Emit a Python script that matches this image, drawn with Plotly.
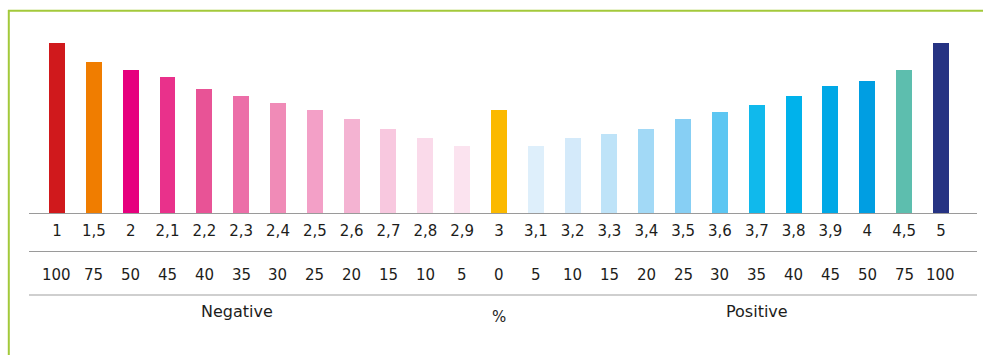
import plotly.graph_objects as go

# Rating scale, percentage band and bar heights
scale_labels = ["1", "1,5", "2", "2,1", "2,2", "2,3", "2,4", "2,5", "2,6", "2,7", "2,8", "2,9",
                "3", "3,1", "3,2", "3,3", "3,4", "3,5", "3,6", "3,7", "3,8", "3,9", "4", "4,5", "5"]
pct_labels = ["100", "75", "50", "45", "40", "35", "30", "25", "20", "15", "10", "5",
              "0", "5", "10", "15", "20", "25", "30", "35", "40", "45", "50", "75", "100"]
values = [171.5, 152.5, 144.5, 137.5, 125.5, 118.5, 111.5, 104.5, 95.5, 85.5, 76.5, 68.5,
          104.5, 68.5, 76.5, 80.5, 85.5, 95.5, 102.5, 109.5, 118.5, 128.5, 133.5, 144.5, 171.5]
bar_colors = ["#D0191C", "#F07D00", "#E6007E", "#E9318B", "#E85396", "#EC6EA8", "#F08BB7",
              "#F3A0C7", "#F4B3D2", "#F8C8DF", "#FADAEA", "#FBE3EF", "#FBB900", "#DEEFFB",
              "#D4EAFA", "#BEE3F8", "#A2D9F6", "#87CFF4", "#5CC6F2", "#10B9EC", "#00B2EB",
              "#00A8E6", "#009EE2", "#5DBEAE", "#263383"]
group_labels = ["Negative", "%", "Positive"]
group_pos = [4.9, 12, 19.0]

FONT = "DejaVu Sans"
TXT = "#1d1d1b"
GREEN = "#A3C93A"

x = list(range(len(values)))

fig = go.Figure(go.Bar(
    x=x, y=values, width=0.434,
    marker=dict(color=bar_colors, line=dict(width=0)),
    hoverinfo="skip",
))

L, R, T, B = 29, 6, 20, 141
W, H = 983, 355
ph = H - T - B
pw = W - L - R


def py(pixel_y):
    return (H - B - pixel_y) / ph


def px(pixel_x):
    return (pixel_x - L) / pw


shapes = [
    # axis baseline and separators
    dict(type="line", xref="paper", yref="paper", x0=0, x1=1, y0=py(213.5), y1=py(213.5),
         line=dict(color="#9a9a9a", width=1)),
    dict(type="line", xref="paper", yref="paper", x0=0, x1=1, y0=py(251.5), y1=py(251.5),
         line=dict(color="#9a9a9a", width=1)),
    dict(type="line", xref="paper", yref="paper", x0=0, x1=1, y0=py(295), y1=py(295),
         line=dict(color="#cfcfcf", width=2)),
    # frame
    dict(type="line", xref="paper", yref="paper", x0=px(8), x1=px(983), y0=py(10.8), y1=py(10.8),
         line=dict(color=GREEN, width=2)),
    dict(type="line", xref="paper", yref="paper", x0=px(8.8), x1=px(8.8), y0=py(10), y1=py(356),
         line=dict(color=GREEN, width=2)),
]

annotations = []
for i, t in enumerate(pct_labels):
    annotations.append(dict(x=i, y=py(275), xref="x", yref="paper", text=t, showarrow=False,
                            xanchor="center", yanchor="middle",
                            font=dict(family=FONT, size=15, color=TXT)))
group_y = [311.5, 317, 311.5]
group_size = [16, 15, 16]
for t, xp, yp, fs in zip(group_labels, group_pos, group_y, group_size):
    annotations.append(dict(x=xp, y=py(yp), xref="x", yref="paper", text=t, showarrow=False,
                            xanchor="center", yanchor="middle",
                            font=dict(family=FONT, size=fs, color=TXT)))

fig.update_layout(
    width=W, height=H,
    margin=dict(l=L, r=R, t=T, b=B, pad=0),
    paper_bgcolor="white", plot_bgcolor="white",
    showlegend=False,
    bargap=0,
    shapes=shapes,
    annotations=annotations,
    xaxis=dict(range=[-0.760, 24.978], tickmode="array", tickvals=x, ticktext=scale_labels,
               showgrid=False, zeroline=False, showline=False, ticks="",
               tickfont=dict(family=FONT, size=15, color=TXT), ticklabelstandoff=6,
               fixedrange=True),
    yaxis=dict(range=[0, ph], visible=False, fixedrange=True),
)

fig.write_html("out.html", config={"displayModeBar": False})
